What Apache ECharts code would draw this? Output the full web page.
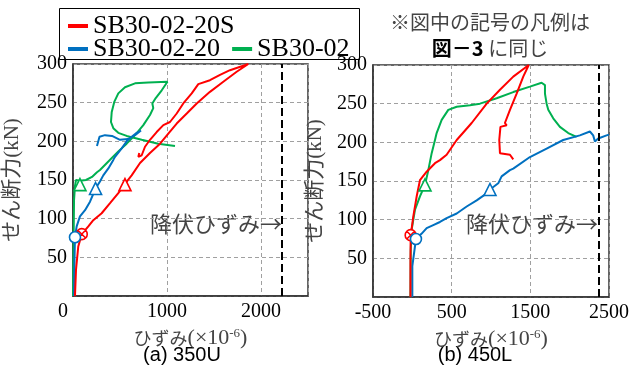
<!DOCTYPE html>
<html>
<head>
<meta charset="utf-8">
<script src="https://cdn.jsdelivr.net/npm/echarts@6/dist/echarts.min.js"></script>
<style>
  html, body { margin: 0; padding: 0; background: #fff; }
  #chart { width: 639px; height: 368px; }
</style>
</head>
<body>
<div id="chart"></div>
<script>
// 系列名
const names = ['SB30-02-20S', 'SB30-02-20', 'SB30-02'];
const colors = ['#ff0000', '#0070c0', '#00b050'];

// (a) 350U  [ひずみ(×10^-6), せん断力(kN)]
const redL = [[21,0],[32,34],[56,64],[93,80],[163,90],[216,98],[305,107],[394,120],[482,133],[553,145],
  [624,156],[713,172],[819,185],[926,197],[1014,210],[1103,223],[1210,236],[1316,249],[1457,264],
  [1599,277],[1741,290],[1865,300],[1670,292],[1564,286],[1457,279],[1333,274],[1263,262],[1173,249],
  [1103,236],[1032,225],[961,221],[890,212],[819,202],[766,193],[731,182],[695,180],[705,185]];
const blueL = [[10,0],[16,47],[21,76],[39,90],[74,103],[128,111],[181,122],[240,139],[287,148],
  [322,156],[376,165],[429,176],[447,180],[518,191],[571,200],[624,206],[678,211],[723,214],
  [670,209],[585,203],[500,202],[415,207],[340,208],[282,206],[255,194]];
const greenL = [[0,0],[5,59],[11,124],[21,142],[32,150],[74,149],[138,150],[202,154],[255,160],
  [287,163],[376,174],[482,187],[571,197],[660,208],[748,221],[819,234],[854,243],[844,249],
  [880,256],[944,266],[1005,277],[801,276],[660,275],[553,270],[482,262],[439,251],[412,238],
  [404,225],[429,217],[482,211],[571,207],[731,202],[907,197],[1085,194]];

// (b) 450L
const redR = [[-24,0],[-24,48],[-21,79],[12,104],[55,130],[97,151],[182,162],[288,173],[351,177],
  [436,184],[564,203],[754,225],[945,250],[1114,268],[1283,285],[1480,300],[1410,285],[1326,263],
  [1241,242],[1177,225],[1199,222],[1120,220],[1105,203],[1114,186],[1241,184],[1283,178]];
const blueR = [[0,0],[0,40],[46,75],[119,82],[182,89],[266,93],[351,97],[436,102],[564,108],
  [691,117],[818,125],[945,134],[987,139],[1092,147],[1135,156],[1241,164],[1283,166],[1495,181],
  [1707,192],[1918,203],[2130,209],[2257,214],[2299,209],[2321,201],[2363,205],[2469,209],[2500,210]];
const greenR = [[-24,0],[-20,60],[-9,87],[34,113],[97,130],[161,145],[203,164],[246,186],[288,203],
  [309,212],[373,229],[457,242],[564,246],[733,248],[860,250],[1072,257],[1283,265],[1495,272],
  [1643,277],[1686,274],[1686,263],[1707,250],[1728,242],[1791,231],[1876,220],[1982,212],[2088,207]];

// 記号 (ひび割れ ⊗, 〇, △)
const crossL = [[93,80]];
const circleL = [[21,76]];
const triRedL = [[553,144]];
const triBlueL = [[240,139]];
const triGreenL = [[74,144]];
const crossR = [[-21,80]];
const circleR = [[46,75]];
const triBlueR = [[987,139]];
const triGreenR = [[161,145]];

// 降伏ひずみ
const yieldL = 2220;
const yieldR = 2365;

const xTicksL = { min: 0, max: 2500, interval: 1000 };
const xTicksR = { min: -500, max: 2500, interval: 1000 };
const yTicks = { min: 0, max: 300, interval: 50 };

const CROSS = 'path://M0,10A10,10,0,1,1,20,10A10,10,0,1,1,0,10ZM2.93,2.93L17.07,17.07M17.07,2.93L2.93,17.07';
const SERIF = "'Liberation Serif', 'Noto Sans CJK JP', serif";
const CJK = "'Noto Sans CJK JP', sans-serif";

const chart = echarts.init(document.getElementById('chart'));

function lineSeries(name, data, color, idx) {
  return {
    name: name, type: 'line', data: data, xAxisIndex: idx, yAxisIndex: idx,
    showSymbol: false, symbol: 'none', smooth: false, animation: false,
    lineStyle: { color: color, width: 2 }, itemStyle: { color: color }, z: 3
  };
}
function markSeries(data, symbol, color, idx, size) {
  return {
    type: 'scatter', data: data, xAxisIndex: idx, yAxisIndex: idx, symbol: symbol,
    symbolSize: size, animation: false, silent: true, z: 5,
    itemStyle: { color: '#fff', borderColor: color, borderWidth: 1.6, opacity: 1 }
  };
}
function yieldSeries(x, idx) {
  return {
    type: 'line', data: [], xAxisIndex: idx, yAxisIndex: idx, animation: false,
    markLine: {
      silent: true, symbol: 'none', label: { show: false },
      lineStyle: { color: '#000', type: [8, 4], width: 2 },
      data: [{ xAxis: x }]
    }
  };
}

function xAxis(idx, t) {
  return {
    type: 'value', gridIndex: idx, min: t.min, max: t.max, interval: t.interval,
    name: '{k|ひずみ}{p|(×10}{sup|-6}{p|)}', nameLocation: 'middle', nameGap: 17,
    nameTextStyle: {
      color: '#444',
      rich: {
        k: { fontFamily: CJK, fontSize: 18, color: '#444' },
        p: { fontFamily: SERIF, fontSize: 22, color: '#444' },
        sup: { fontFamily: SERIF, fontSize: 13, color: '#444', verticalAlign: 'top', padding: [0, 0, 9, 0] }
      }
    },
    axisLine: { show: true, onZero: false, lineStyle: { color: '#333', width: 1.5 } },
    axisTick: { show: false },
    axisLabel: {
      fontFamily: SERIF, fontSize: 20, color: '#000', margin: 6, showMaxLabel: idx === 1,
      formatter: function (v) { return (idx === 0 && v === 0) ? '{z|0}' : String(v); },
      rich: { z: { fontFamily: SERIF, fontSize: 20, color: '#000', padding: [0, 20, 0, 0] } }
    },
    splitLine: { show: true, lineStyle: { color: '#a0a0a0', type: [4, 3], width: 1 } }
  };
}
function yAxis(idx, gap) {
  return {
    type: 'value', gridIndex: idx, min: yTicks.min, max: yTicks.max, interval: yTicks.interval,
    name: 'せん断力(kN)', nameLocation: 'middle', nameRotate: 90, nameGap: gap,
    nameTextStyle: { fontFamily: SERIF, fontSize: 21, color: '#444' },
    axisLine: { show: true, onZero: false, lineStyle: { color: '#333', width: 1.5 } },
    axisTick: { show: false },
    axisLabel: { fontFamily: SERIF, fontSize: 20, color: '#000', margin: 6, showMinLabel: false },
    splitLine: { show: true, lineStyle: { color: '#a0a0a0', type: [4, 3], width: 1 } }
  };
}

const option = {
  backgroundColor: '#fff',
  animation: false,
  legend: [
    {
      data: [names[0]], left: 63, top: 8, itemWidth: 20, itemHeight: 4, icon: 'rect',
      textStyle: { fontFamily: SERIF, fontSize: 26, color: '#000' }
    },
    {
      data: [names[1], names[2]], left: 63, top: 31, itemWidth: 20, itemHeight: 4, itemGap: 12, icon: 'rect',
      textStyle: { fontFamily: SERIF, fontSize: 26, color: '#000' }
    }
  ],
  grid: [
    { left: 73, top: 64, width: 235, height: 232, show: true, borderColor: '#333', borderWidth: 1.5, backgroundColor: 'transparent' },
    { left: 373, top: 65, width: 236, height: 232, show: true, borderColor: '#333', borderWidth: 1.5, backgroundColor: 'transparent' }
  ],
  xAxis: [xAxis(0, xTicksL), xAxis(1, xTicksR)],
  yAxis: [yAxis(0, 50), yAxis(1, 47)],
  series: [
    yieldSeries(yieldL, 0),
    yieldSeries(yieldR, 1),
    lineSeries(names[2], greenL, colors[2], 0),
    lineSeries(names[1], blueL, colors[1], 0),
    lineSeries(names[0], redL, colors[0], 0),
    lineSeries(names[2], greenR, colors[2], 1),
    lineSeries(names[1], blueR, colors[1], 1),
    lineSeries(names[0], redR, colors[0], 1),
    markSeries(crossL, CROSS, colors[0], 0, 11),
    markSeries(circleL, 'circle', colors[1], 0, 11),
    markSeries(triRedL, 'triangle', colors[0], 0, 12),
    markSeries(triBlueL, 'triangle', colors[1], 0, 12),
    markSeries(triGreenL, 'triangle', colors[2], 0, 12),
    markSeries(crossR, CROSS, colors[0], 1, 11),
    markSeries(circleR, 'circle', colors[1], 1, 11),
    markSeries(triBlueR, 'triangle', colors[1], 1, 12),
    markSeries(triGreenR, 'triangle', colors[2], 1, 12)
  ],
  graphic: [
    { type: 'rect', left: 57, top: 6, shape: { width: 300, height: 51 }, style: { fill: 'none', stroke: '#000', lineWidth: 1 }, z: 10 },
    {
      type: 'text', x: 490, y: 22,
      style: { text: '※図中の記号の凡例は', font: "20px 'Noto Sans CJK JP'", fill: '#444', align: 'center', verticalAlign: 'middle' }
    },
    {
      type: 'text', x: 490, y: 48,
      style: {
        text: '{b|図－3} に同じ', align: 'center', verticalAlign: 'middle',
        rich: {
          b: { font: "bold 20px 'Noto Sans CJK JP'", fill: '#000' }
        },
        font: "20px 'Noto Sans CJK JP'", fill: '#444'
      }
    },
    {
      type: 'text', x: 282, y: 224,
      style: { text: '降伏ひずみ→', font: "22px 'Noto Sans CJK JP'", fill: '#444', align: 'right', verticalAlign: 'middle' }
    },
    {
      type: 'text', x: 598, y: 224,
      style: { text: '降伏ひずみ→', font: "22px 'Noto Sans CJK JP'", fill: '#444', align: 'right', verticalAlign: 'middle' }
    },
    {
      type: 'text', x: 182, y: 355,
      style: { text: '(a) 350U', font: "20px 'Liberation Sans'", fill: '#000', align: 'center', verticalAlign: 'middle' }
    },
    {
      type: 'text', x: 475, y: 355,
      style: { text: '(b) 450L', font: "20px 'Liberation Sans'", fill: '#000', align: 'center', verticalAlign: 'middle' }
    }
  ]
};

chart.setOption(option);
</script>
</body>
</html>
